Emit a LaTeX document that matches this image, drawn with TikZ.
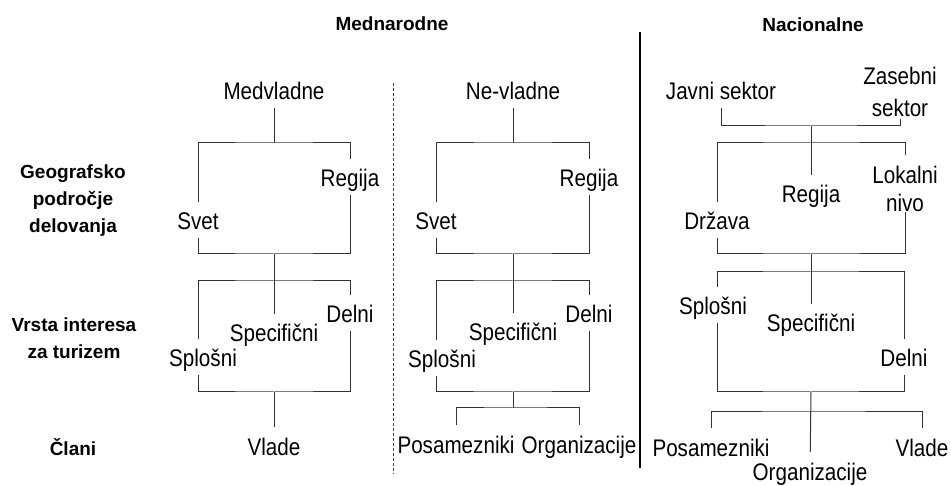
\documentclass[tikz,border=0pt]{standalone}
\usepackage{fontspec}
\setmainfont{Liberation Sans}
\newfontfamily\narrowfont[FakeStretch=0.86]{Liberation Sans}
\begin{document}
\begin{tikzpicture}[x=1pt,y=-1pt,
  lab/.style={font=\narrowfont\fontsize{24}{28}\selectfont,anchor=base,inner xsep=0pt,inner ysep=3pt,text height=25pt,text depth=5pt},
  lab2/.style={font=\narrowfont\fontsize{24}{28}\selectfont,align=center,inner sep=0pt},
  head/.style={font=\bfseries\fontsize{19}{27}\selectfont,align=center,inner sep=0pt},
  ln/.style={draw=black!80,line width=1pt}]
\useasboundingbox (0,0) rectangle (951,486);
\node[head,anchor=base] (mednar) at (392,31) {Mednarodne};
\node[head,anchor=base] (nacion) at (813,32) {Nacionalne};
\node[head] (geo) at (73,201) {Geografsko\\področje\\delovanja};
\node[head] (vrsta) at (74,338) {Vrsta interesa\\za turizem};
\node[head,anchor=base] (clani) at (73,455) {Člani};
\node[lab] (med) at (274,100) {Medvladne};
\node[lab] (svet1) at (198,230) {Svet};
\node[lab] (reg1) at (350,187) {Regija};
\node[lab] (splo1) at (203,367) {Splošni};
\node[lab] (spec1) at (274,342) {Specifični};
\node[lab] (del1) at (350,323) {Delni};
\node[lab] (vla1) at (274,455) {Vlade};
\coordinate (m1) at (274,143);
\coordinate (m2) at (274,254);
\coordinate (m3) at (274,281);
\coordinate (m4) at (274,392);
\node[lab] (nevl) at (513,100) {Ne-vladne};
\node[lab] (svet2) at (436,230) {Svet};
\node[lab] (reg2) at (589,187) {Regija};
\node[lab] (splo2) at (442,368) {Splošni};
\node[lab] (spec2) at (513,341) {Specifični};
\node[lab] (del2) at (589,323) {Delni};
\node[lab] (pos2) at (456,453) {Posamezniki};
\node[lab] (org2) at (579,453) {Organizacije};
\coordinate (n1) at (513,143);
\coordinate (n2) at (513,254);
\coordinate (n3) at (513,281);
\coordinate (n4) at (513,392);
\coordinate (n5) at (513,408);
\node[lab] (javni) at (721,100) {Javni sektor};
\node[lab2,anchor=south] (zas) at (900,117) {Zasebni\\[4pt]sektor};
\node[lab] (reg3) at (811,203) {Regija};
\node[lab] (drz) at (717,230) {Država};
\node[lab2,anchor=south] (lok) at (905,212) {Lokalni\\nivo};
\node[lab] (splo3) at (713,315) {Splošni};
\node[lab] (spec3) at (811,332) {Specifični};
\node[lab] (del3) at (904,367) {Delni};
\node[lab] (pos3) at (711,456) {Posamezniki};
\node[lab] (org3) at (810,480) {Organizacije};
\node[lab] (vla3) at (922,456) {Vlade};
\coordinate (k1) at (811,126);
\coordinate (k2) at (811,143);
\coordinate (k3) at (811,254);
\coordinate (k4) at (811,272);
\coordinate (k5) at (811,392);
\coordinate (k6) at (811,411);
\coordinate (d1) at (393,83);
\coordinate (d2) at (393,474);
\coordinate (s1) at (640,32);
\coordinate (s2) at (640,468);
\draw[ln] (med) -- (m1);
\draw[ln] (svet1) |- (m1) -| (reg1);
\draw[ln] (svet1) |- (m2) -| (reg1);
\draw[ln] (m2) -- (spec1);
\draw[ln] (splo1.north -| svet1) |- (m3) -| (del1);
\draw[ln] (splo1.south -| svet1) |- (m4) -| (del1);
\draw[ln] (m4) -- (vla1);
\draw[ln] (nevl) -- (n1);
\draw[ln] (svet2) |- (n1) -| (reg2);
\draw[ln] (svet2) |- (n2) -| (reg2);
\draw[ln] (n2) -- (spec2);
\draw[ln] (splo2.north -| svet2) |- (n3) -| (del2);
\draw[ln] (splo2.south -| svet2) |- (n4) -| (del2);
\draw[ln] (n4) -- (n5);
\draw[ln] (pos2) |- (n5) -| (org2);
\draw[ln,shorten >=2pt] (javni) |- (k1) -| (zas);
\draw[ln] (k1) -- (reg3);
\draw[ln,shorten >=11pt] (drz) |- (k2) -| (lok);
\draw[ln] (drz) |- (k3) -| (lok);
\draw[ln] (k3) -- (spec3);
\draw[ln] (splo3.north -| drz) |- (k4) -| (del3);
\draw[ln] (splo3.south -| drz) |- (k5) -| (del3);
\draw[ln] (k5) -- (org3);
\draw[ln] (pos3) |- (k6) -| (vla3);
\draw[black!75,line width=0.8pt,dash pattern=on 3pt off 2pt] (d1) -- (d2);
\draw[line width=1.3pt] (s1) -- (s2);
\end{tikzpicture}
\end{document}
